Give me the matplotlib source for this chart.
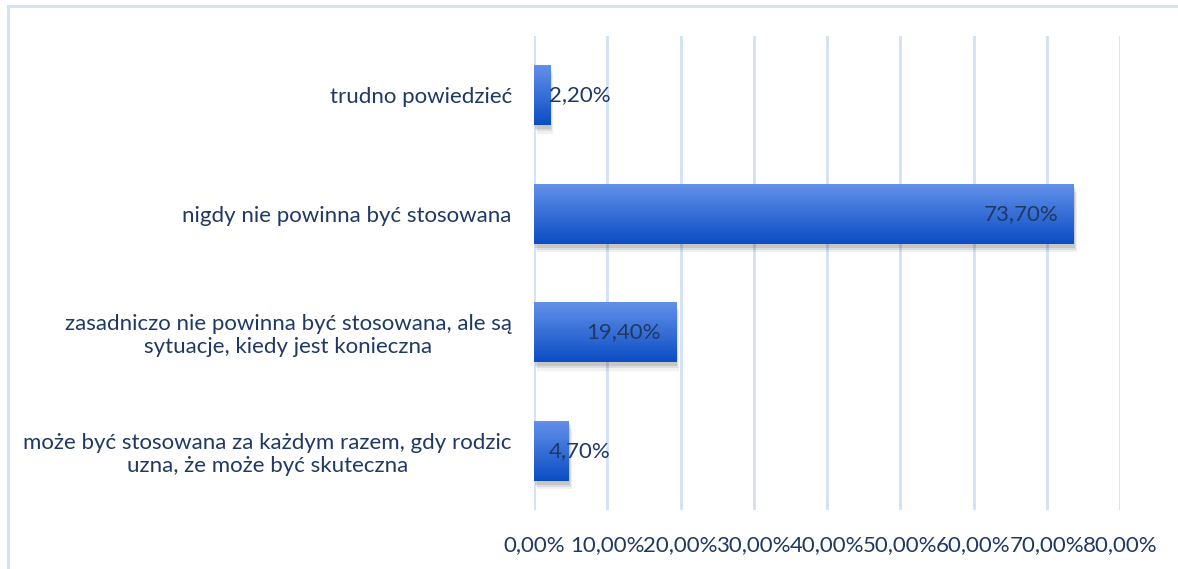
import matplotlib.pyplot as plt
import numpy as np
from matplotlib.patches import Rectangle
from matplotlib.colors import LinearSegmentedColormap

plt.rcParams['font.family'] = ['Lato', 'DejaVu Sans']

categories = ['może być stosowana za każdym razem, gdy rodzic\nuzna, że może być skuteczna',
              'zasadniczo nie powinna być stosowana, ale są\nsytuacje, kiedy jest konieczna',
              'nigdy nie powinna być stosowana',
              'trudno powiedzieć']
values = [4.7, 19.4, 73.7, 2.2]
labels = ['4,70%', '19,40%', '73,70%', '2,20%']
ticks = [0, 10, 20, 30, 40, 50, 60, 70, 80]
tick_labels = ['0,00%', '10,00%', '20,00%', '30,00%', '40,00%', '50,00%', '60,00%', '70,00%', '80,00%']

txt = '#1F3864'
grid = '#D2E1F4'
fs = 16

fig = plt.figure(figsize=(11.78, 5.69), dpi=100)
ax = fig.add_axes([534/1178, 1-510/569, (1120-534)/1178, (510-36)/569])

# gradient for bars
grad = np.linspace(0, 1, 256).reshape(-1, 1)
cmap = LinearSegmentedColormap.from_list('b', ['#0A4DC4', '#6592EA'])

h = 0.51
for i, v in enumerate(values):
    # soft shadow
    for k, a in [(0.07, 0.06), (0.05, 0.08), (0.03, 0.10)]:
        sh = Rectangle((k * 6, i - h/2 - k), v, h, facecolor='#000000', alpha=a,
                       edgecolor='none', zorder=2)
        ax.add_patch(sh)
    r = Rectangle((0, i - h/2), v, h, facecolor='none', edgecolor='none', zorder=3)
    ax.add_patch(r)
    im = ax.imshow(grad, cmap=cmap, aspect='auto', origin='lower',
                   extent=(0, v, i - h/2, i + h/2), zorder=3)
    im.set_clip_path(r)
    if v < 10:
        ax.text(2.05, i, labels[i], ha='left', va='center', color=txt, fontsize=fs, zorder=4)
    else:
        ax.text(v - 2.1, i, labels[i], ha='right', va='center', color=txt, fontsize=fs, zorder=4)

ax.set_xlim(0, 80)
ax.set_ylim(-0.5, 3.5)
ax.set_xticks(ticks)
ax.set_xticklabels(tick_labels, color=txt, fontsize=fs)
ax.set_yticks(range(len(categories)))
ax.set_yticklabels(categories, color=txt, fontsize=fs, multialignment='center')
ax.tick_params(length=0)
ax.tick_params(axis='x', pad=18)
ax.tick_params(axis='y', pad=16)
ax.grid(axis='x', color=grid, linewidth=2, zorder=0)
ax.set_axisbelow(True)
for s in ax.spines.values():
    s.set_visible(False)

# outer frame (only left and top are visible)
fig.add_artist(plt.Line2D([8/1178, 8/1178], [0, 1-6/569], color=grid, linewidth=2))
fig.add_artist(plt.Line2D([8/1178, 1], [1-6/569, 1-6/569], color=grid, linewidth=2))

fig.savefig('out.png', dpi=100)
